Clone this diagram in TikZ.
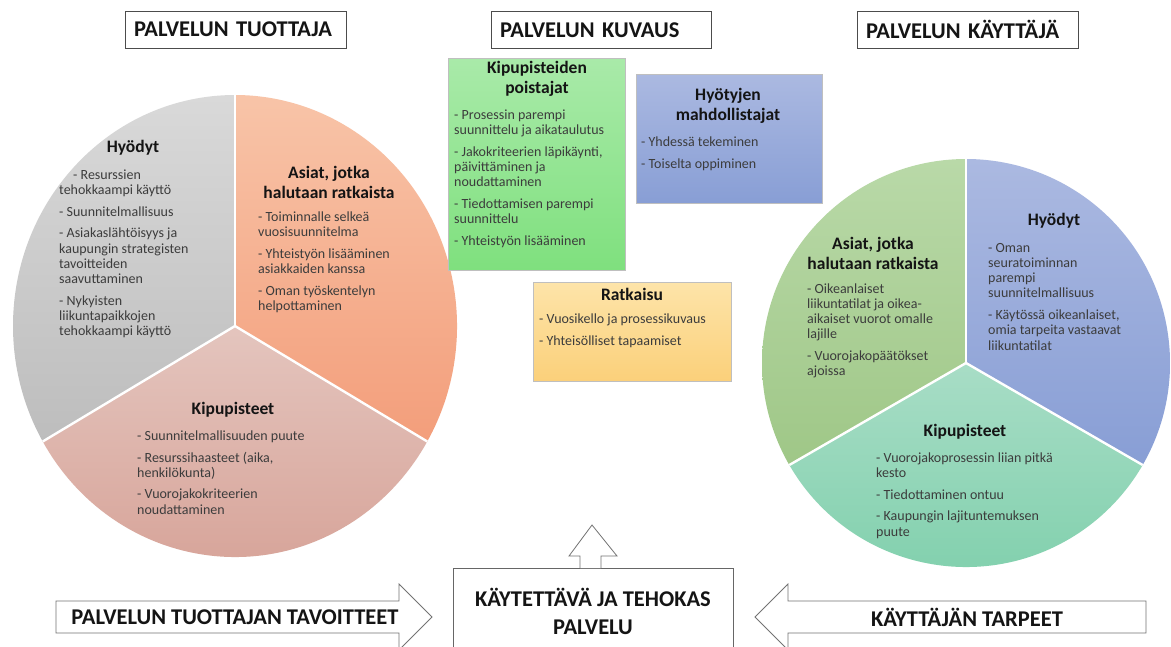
\documentclass[tikz,border=0pt]{standalone}
\usepackage{fontspec}
\setmainfont{Carlito}
\usetikzlibrary{calc}

% sector and box colours (top / bottom of each gradient)
\definecolor{gryT}{HTML}{D9D9D9}
\definecolor{gryB}{HTML}{BDBDBD}
\definecolor{orgT}{HTML}{F8C4A8}
\definecolor{orgB}{HTML}{F39E7B}
\definecolor{pnkT}{HTML}{E4C5BE}
\definecolor{pnkB}{HTML}{D6A196}
\definecolor{grnT}{HTML}{B9D9A8}
\definecolor{grnB}{HTML}{9FC787}
\definecolor{bluT}{HTML}{ABB9E1}
\definecolor{bluB}{HTML}{889ED5}
\definecolor{tealT}{HTML}{A8DDC6}
\definecolor{tealB}{HTML}{7ECFAB}
\definecolor{lgT}{HTML}{A9EAA9}
\definecolor{lgB}{HTML}{7FE07E}
\definecolor{ylT}{HTML}{FDE4A9}
\definecolor{ylB}{HTML}{FBD07A}
\definecolor{bodytext}{HTML}{3C3C3C}

\tikzset{
  sep/.style={draw=white, line width=2.4pt},
  head/.style={font=\fontsize{22.5}{28}\selectfont\bfseries, text=black!92},
  headbox/.style={head, draw=black!70, line width=0.8pt, fill=white,
    inner xsep=9pt, inner ysep=0pt, text width=#1, align=left, minimum height=37pt},
  ttl/.style={font=\fontsize{17.5}{20}\selectfont\bfseries, text=black!92,
    align=center, inner sep=0pt},
  txt/.style={font=\fontsize{14}{15.2}\selectfont, text=bodytext, align=left,
    inner sep=0pt, anchor=north west},
  card/.style={line width=0.6pt, minimum width=#1, anchor=north west, inner sep=0pt},
  blockarrow/.style={draw=black!55, line width=0.8pt, fill=white, line join=miter},
}

\begin{document}
\begin{tikzpicture}[x=1pt,y=1pt]
\useasboundingbox (0,0) rectangle (1171,-646);
\clip (0,0) rectangle (1171,-646);
\fill[white] (0,0) rectangle (1171,-646);

% ---------- headings ----------
\node[headbox=203pt] (hprod) at (235.5,-29.5) {PALVELUN TUOTTAJA};
\node[headbox=202pt] (hdesc) at (601,-30) {PALVELUN KUVAUS};
\node[headbox=203pt] (huser) at (967.5,-29.5) {PALVELUN KÄYTTÄJÄ};

% ---------- producer pie (slightly oval) ----------
\coordinate (L) at (235,-326);
\shade[top color=gryT, bottom color=gryB] (L) -- ++(90:222 and 231)
  arc[start angle=90, end angle=210, x radius=222, y radius=231] -- cycle;
\shade[top color=pnkT, bottom color=pnkB] (L) -- ++(210:222 and 231)
  arc[start angle=210, end angle=330, x radius=222, y radius=231] -- cycle;
\shade[top color=orgT, bottom color=orgB] (L) -- ++(330:222 and 231)
  arc[start angle=330, end angle=450, x radius=222, y radius=231] -- cycle;
\draw[sep] (L) -- ++(90:222 and 231);
\draw[sep] (L) -- ++(210:222 and 231);
\draw[sep] (L) -- ++(330:222 and 231);

% body blocks: node top sits just above the first text line
\node[ttl] (lhyT) at (133,-148) {Hyödyt};
\node[txt] (lhy) at (59,-168.5) {\strut\hspace{14pt}- Resurssien\\tehokkaampi käyttö\\[6.5pt]- Suunnitelmallisuus\\[6.5pt]- Asiakaslähtöisyys ja\\kaupungin strategisten\\tavoitteiden\\saavuttaminen\\[6.5pt]- Nykyisten\\liikuntapaikkojen\\tehokkaampi käyttö};
\node[ttl] (lasT) at (329,-182) {Asiat, jotka\\halutaan ratkaista};
\node[txt] (las) at (258,-210.5) {\strut- Toiminnalle selkeä\\vuosisuunnitelma\\[6.5pt]- Yhteistyön lisääminen\\asiakkaiden kanssa\\[6.5pt]- Oman työskentelyn\\helpottaminen};
\node[ttl] (lkiT) at (233,-410) {Kipupisteet};
\node[txt] (lki) at (137,-429.5) {\strut- Suunnitelmallisuuden puute\\[6.5pt]- Resurssihaasteet (aika,\\henkilökunta)\\[6.5pt]- Vuorojakokriteerien\\noudattaminen};

% ---------- service description cards ----------
\node[card=177pt, minimum height=212pt, draw=black!25, top color=lgT, bottom color=lgB] (pain) at (448,-58) {};
\node[ttl] (painT) at (537,-79) {Kipupisteiden\\poistajat};
\node[txt] (painX) at (454,-108.5) {\strut- Prosessin parempi\\suunnittelu ja aikataulutus\\[6.5pt]- Jakokriteerien läpikäynti,\\päivittäminen ja\\noudattaminen\\[6.5pt]- Tiedottamisen parempi\\suunnittelu\\[6.5pt]- Yhteistyön lisääminen};

\node[card=186pt, minimum height=129pt, draw=black!25, top color=bluT, bottom color=bluB] (gain) at (636,-74) {};
\node[ttl] (gainT) at (728,-106) {Hyötyjen\\mahdollistajat};
\node[txt] (gainX) at (641,-135.5) {\strut- Yhdessä tekeminen\\[6.5pt]- Toiselta oppiminen};

\node[card=198pt, minimum height=99pt, draw=black!25, top color=ylT, bottom color=ylB] (sol) at (533,-282) {};
\node[ttl] (solT) at (632,-294) {Ratkaisu};
\node[txt] (solX) at (539,-312.5) {\strut- Vuosikello ja prosessikuvaus\\[6.5pt]- Yhteisölliset tapaamiset};

% ---------- user pie ----------
\coordinate (R) at (966,-363);
\shade[top color=grnT, bottom color=grnB] (R) -- ++(90:204)
  arc[start angle=90, end angle=210, radius=204] -- cycle;
\shade[top color=tealT, bottom color=tealB] (R) -- ++(210:204)
  arc[start angle=210, end angle=330, radius=204] -- cycle;
\shade[top color=bluT, bottom color=bluB] (R) -- ++(330:204)
  arc[start angle=330, end angle=450, radius=204] -- cycle;
\draw[sep] (R) -- ++(90:204);
\draw[sep] (R) -- ++(210:204);
\draw[sep] (R) -- ++(330:204);

\node[ttl] (rhyT) at (1054,-221) {Hyödyt};
\node[txt] (rhy) at (988,-241.5) {\strut- Oman\\seuratoiminnan\\parempi\\suunnitelmallisuus\\[6.5pt]- Käytössä oikeanlaiset,\\omia tarpeita vastaavat\\liikuntatilat};
\node[ttl] (rasT) at (873,-253) {Asiat, jotka\\halutaan ratkaista};
\node[txt] (ras) at (807,-282.5) {\strut- Oikeanlaiset\\liikuntatilat ja oikea-\\aikaiset vuorot omalle\\lajille\\[6.5pt]- Vuorojakopäätökset\\ajoissa};
\node[ttl] (rkiT) at (965,-432) {Kipupisteet};
\node[txt] (rki) at (876,-451.5) {\strut- Vuorojakoprosessin liian pitkä\\kesto\\[6.5pt]- Tiedottaminen ontuu\\[6.5pt]- Kaupungin lajituntemuksen\\puute};

% ---------- bottom row ----------
\node[draw=black!60, line width=0.8pt, fill=white, minimum width=280pt,
  minimum height=95pt, anchor=north west] (svc) at (453,-568) {};
\node[head, align=center] (svcT) at (593,-611) {KÄYTETTÄVÄ JA TEHOKAS\\PALVELU};

% block arrow pointing up out of the service box
\draw[blockarrow] (580,-568) -- (580,-556) -- (569,-556) -- (592,-525)
  -- (617,-556) -- (601,-556) -- (601,-568);

% producer goals arrow
\draw[blockarrow] (56,-601) -- (399,-601) -- (399,-584) -- (432,-617)
  -- (399,-650) -- (399,-633) -- (56,-633) -- cycle;
\node[head] (goals) at (235,-617) {PALVELUN TUOTTAJAN TAVOITTEET};

% user needs arrow
\draw[blockarrow] (1146,-601) -- (788,-601) -- (788,-584) -- (755,-617)
  -- (788,-650) -- (788,-633) -- (1146,-633) -- cycle;
\node[head] (needs) at (967,-617) {KÄYTTÄJÄN TARPEET};
\end{tikzpicture}
\end{document}
